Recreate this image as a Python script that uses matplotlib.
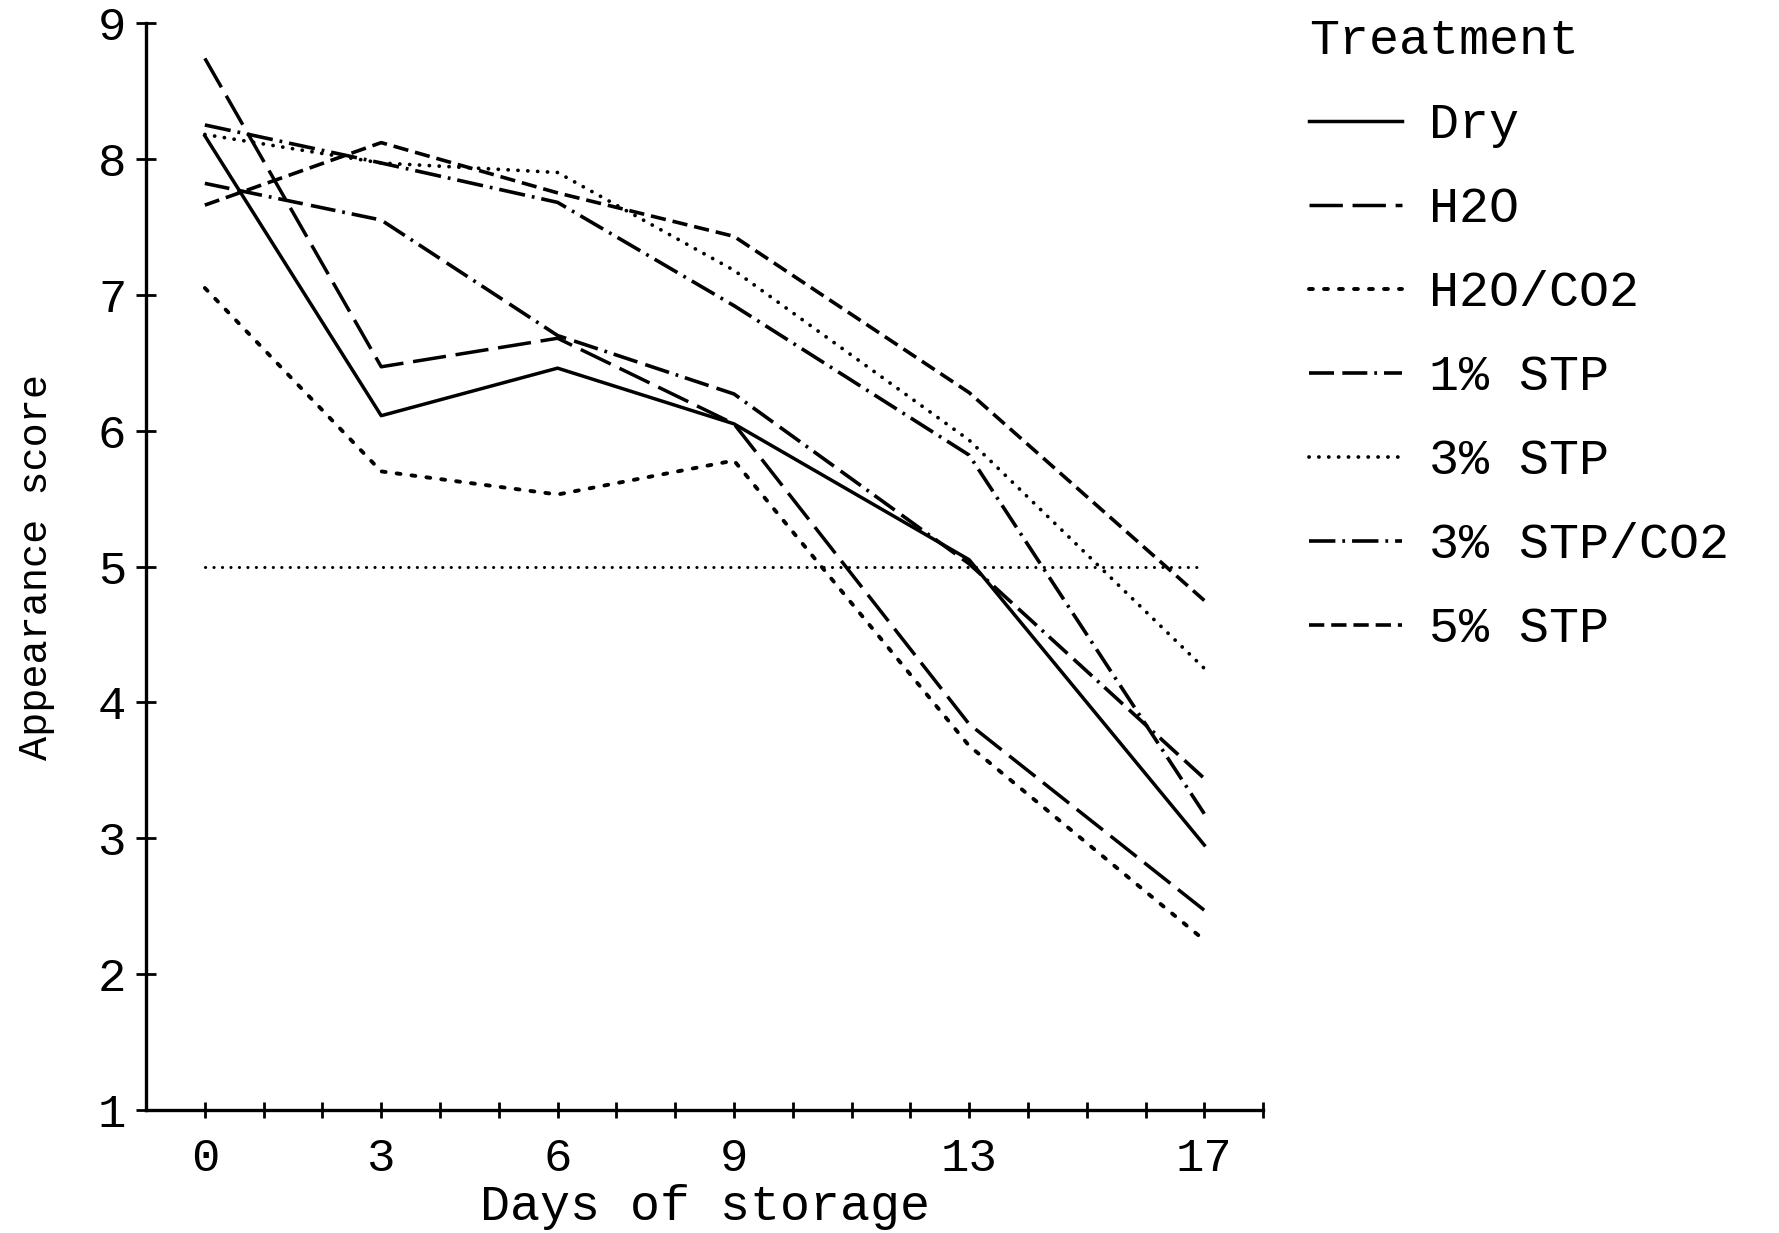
import matplotlib
matplotlib.use("Agg")
import matplotlib.pyplot as plt

plt.rcParams['font.family'] = ['Liberation Mono', 'DejaVu Sans Mono']
plt.rcParams['lines.scale_dashes'] = False

days = [0, 3, 6, 9, 13, 17]
treatments = ['Dry', 'H2O', 'H2O/CO2', '1% STP', '3% STP', '3% STP/CO2', '5% STP']

dry = [8.17, 6.11, 6.46, 6.05, 5.05, 2.95]
h2o = [8.74, 6.47, 6.68, 6.05, 3.84, 2.47]
h2o_co2 = [7.05, 5.70, 5.53, 5.78, 3.68, 2.25]
stp1 = [7.82, 7.55, 6.70, 6.27, 5.02, 3.44]
stp3 = [8.18, 7.97, 7.90, 7.18, 5.93, 4.25]
stp3_co2 = [8.25, 7.97, 7.68, 6.92, 5.82, 3.18]
stp5 = [7.66, 8.12, 7.75, 7.43, 6.28, 4.75]

ref_days = [0, 17]
ref_score = [5, 5]

x_ticks = [0, 3, 6, 9, 13, 17]
y_ticks = [1, 2, 3, 4, 5, 6, 7, 8, 9]

# line styles, dash lengths in points
estilos = [
    dict(linestyle='-', lw=2.5),
    dict(linestyle=(0, (24, 7)), lw=2.5),
    dict(linestyle=(0, (2.8, 8)), lw=2.8, dash_capstyle='round'),
    dict(linestyle=(0, (18, 6, 18, 5, 2, 5)), lw=2.6),
    dict(linestyle=(0, (0.1, 7)), lw=2.7, dash_capstyle='round'),
    dict(linestyle=(0, (19, 5, 2, 5)), lw=2.6),
    dict(linestyle=(0, (11, 5)), lw=2.6),
]


def main():
    fig = plt.figure(figsize=(17.79, 12.33), dpi=100)
    ax = fig.add_axes([0.0821, 0.0998, 0.6279, 0.8815])

    series = [dry, h2o, h2o_co2, stp1, stp3, stp3_co2, stp5]
    for nombre, valores, estilo in zip(treatments, series, estilos):
        ax.plot(days, valores, color='black', label=nombre, **estilo)

    # reference line at score 5
    ax.plot(ref_days, ref_score, color='black', lw=2.2,
            linestyle=(0, (0.1, 6)), dash_capstyle='round')

    ax.set_xlim(-1, 18)
    ax.set_ylim(1, 9)
    ax.spines['top'].set_visible(False)
    ax.spines['right'].set_visible(False)
    ax.spines['left'].set_linewidth(2.4)
    ax.spines['bottom'].set_linewidth(2.4)

    ax.set_xticks(x_ticks)
    ax.set_xticks(range(0, 19), minor=True)
    ax.set_yticks(y_ticks)
    ax.tick_params(axis='x', which='both', direction='inout', length=11,
                   width=2, labelsize=34, pad=14)
    ax.tick_params(axis='y', direction='inout', length=14.4, width=2,
                   labelsize=34, pad=7)

    ax.set_xlabel('Days of storage', fontsize=36, labelpad=2)
    ax.set_ylabel('Appearance score', fontsize=29, labelpad=31)

    leg = ax.legend(loc='upper left', bbox_to_anchor=(0.736, 0.985),
                    bbox_transform=fig.transFigure, frameon=False,
                    title='Treatment', fontsize=36, title_fontsize=36,
                    handlelength=1.85, handletextpad=0.55, labelspacing=0.76,
                    alignment='left', borderaxespad=0, borderpad=0)

    fig.savefig('out.png', dpi=100)


if __name__ == "__main__":
    main()
